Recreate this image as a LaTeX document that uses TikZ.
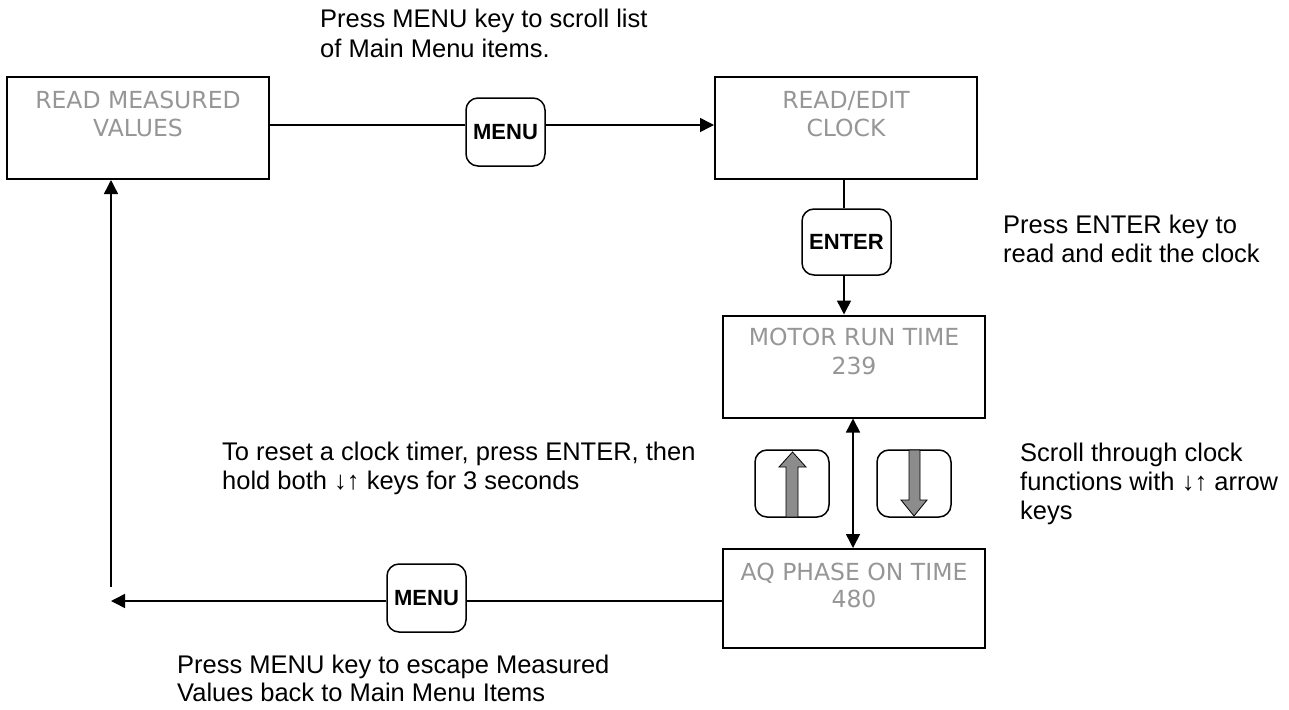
\documentclass[tikz,border=0pt]{standalone}
\usepackage{fontspec}
\setmainfont{Liberation Sans}
\newfontfamily\boxfont{DejaVu Sans}
\usetikzlibrary{arrows.meta,calc}
\definecolor{boxgray}{RGB}{150,150,150}
\definecolor{keygray}{RGB}{140,140,140}
\begin{document}
\begin{tikzpicture}[x=1pt,y=-1pt,
 stbox/.style={draw,line width=2pt,minimum width=262pt,minimum height=102pt,inner sep=0pt},
 keybox/.style={draw,line width=1.5pt,rounded corners=12pt,inner sep=0pt,font=\fontsize{22}{26}\selectfont\bfseries},
 boxtxt/.style={anchor=base,inner sep=0pt,text=boxgray,font=\boxfont\fontsize{23.5}{28}\selectfont},
 lbl/.style={anchor=base west,inner sep=0pt,font=\fontsize{25.5}{29}\selectfont},
 conn/.style={line width=1.5pt},
 tip/.style={-{Triangle[length=14pt,width=14pt]}},
 dtip/.style={{Triangle[length=14pt,width=14pt]}-{Triangle[length=14pt,width=14pt]}},
 garrow/.style={fill=keygray,draw=black,line width=0.8pt}]
\useasboundingbox (0,0) rectangle (1289,709);

% state boxes
\node[stbox] (b1) at (138,128) {};
\node[stbox] (b2) at (846,128) {};
\node[stbox] (b3) at (854,366.5) {};
\node[stbox, minimum height=99pt] (b4) at (854,598.5) {};

\node[boxtxt] (b1a) at ($(b1.north)+(0,32)$) {READ MEASURED};
\node[boxtxt] (b1b) at ($(b1.north)+(0,60)$) {VALUES};
\node[boxtxt] (b2a) at ($(b2.north)+(0,32)$) {READ/EDIT};
\node[boxtxt] (b2b) at ($(b2.north)+(0,60)$) {CLOCK};
\node[boxtxt] (b3a) at ($(b3.north)+(0,31)$) {MOTOR RUN TIME};
\node[boxtxt] (b3b) at ($(b3.north)+(0,60)$) {239};
\node[boxtxt] (b4a) at ($(b4.north)+(0,32)$) {AQ PHASE ON TIME};
\node[boxtxt] (b4b) at ($(b4.north)+(0,59)$) {480};

% keys
\node[keybox, minimum width=79pt, minimum height=68pt] (menu1) at (505.5,132) {MENU};
\node[keybox, minimum width=89pt, minimum height=66pt] (enter) at (846.5,242) {ENTER};
\node[keybox, minimum width=74pt, minimum height=67pt] (up) at (792,483.5) {};
\node[keybox, minimum width=74pt, minimum height=67pt] (down) at (914,483.5) {};
\node[keybox, minimum width=79pt, minimum height=68pt] (menu2) at (426.5,598) {MENU};

% gray arrows inside the arrow keys
\draw[garrow] (786,517) -- (786,467) -- (779,467) -- (792.5,452) -- (806,467) -- (798,467) -- (798,517) -- cycle;
\draw[garrow] (909,450) -- (909,500) -- (901,500) -- (914,516) -- (927,500) -- (920,500) -- (920,450) -- cycle;

% connectors
\draw[conn] (b1.east |- 0,125) -- (menu1.west |- 0,125);
\draw[conn,tip] (menu1.east |- 0,125) -- (b2.west |- 0,125);
\draw[conn] (b2.south -| 844,0) -- (enter.north -| 844,0);
\draw[conn,tip] (enter.south -| 844,0) -- (b3.north -| 844,0);
\draw[conn,dtip] (b3.south -| 853,0) -- (b4.north -| 853,0);
\draw[conn] (b4.west |- 0,601) -- (menu2.east |- 0,601);
\coordinate (lefttip) at (111,601);
\draw[conn,tip] (menu2.west |- 0,601) -- (lefttip);
\coordinate (leftlow) at (111,587);
\draw[conn,tip] (leftlow) -- (b1.south -| leftlow);

% labels
\node[lbl] (t1a) at (320,28) {Press MENU key to scroll list};
\node[lbl] (t1b) at (320,57) {of Main Menu items.};
\node[lbl] (t2a) at (1003,233) {Press ENTER key to};
\node[lbl] (t2b) at (1003,262) {read and edit the clock};
\node[lbl] (t3a) at (222,460) {To reset a clock timer, press ENTER, then};
\node[lbl] (t3b) at (222,489) {hold both ↓↑ keys for 3 seconds};
\node[lbl] (t4a) at (1020,461) {Scroll through clock};
\node[lbl] (t4b) at (1020,490) {functions with ↓↑ arrow};
\node[lbl] (t4c) at (1020,519) {keys};
\node[lbl] (t5a) at (177,673) {Press MENU key to escape Measured};
\node[lbl] (t5b) at (177,701) {Values back to Main Menu Items};
\end{tikzpicture}
\end{document}
